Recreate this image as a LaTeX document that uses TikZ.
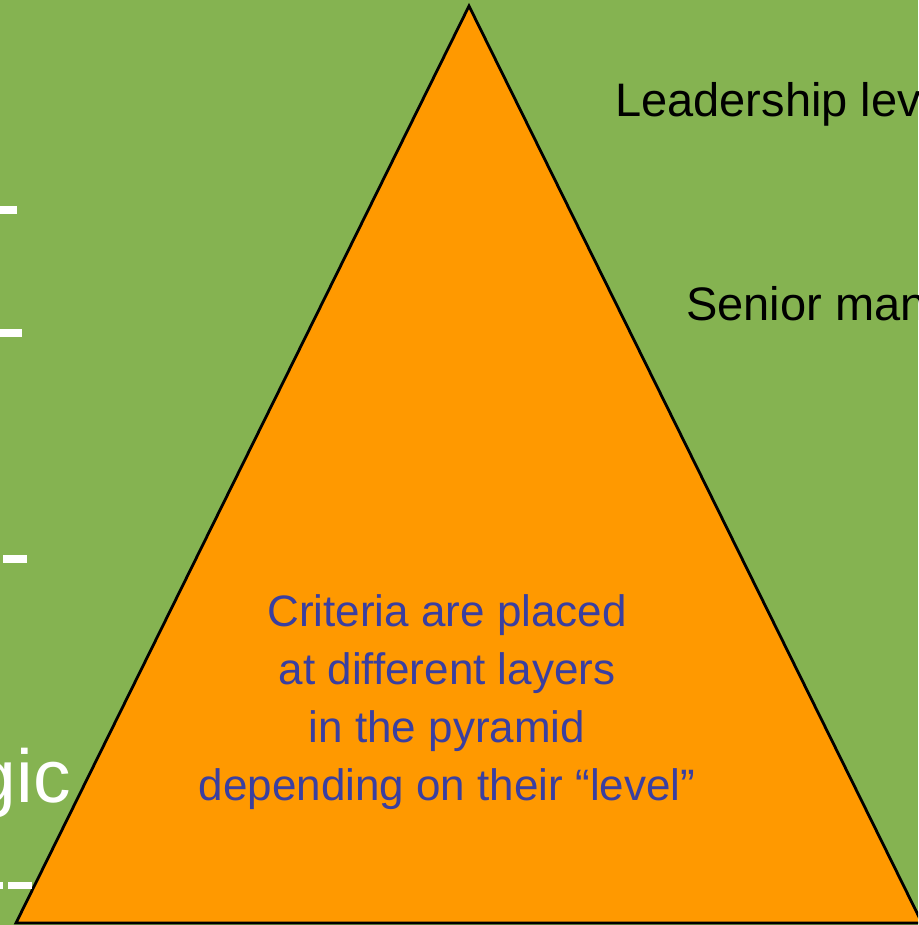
\documentclass[tikz,border=0pt]{standalone}
\usepackage{fontspec}
\setmainfont{Liberation Sans}
\usepackage{xcolor}
\definecolor{bggreen}{HTML}{85B351}
\definecolor{pyrorange}{HTML}{FF9900}
\definecolor{critblue}{HTML}{3A3FA0}

\tikzset{
  levtext/.style={anchor=base west, inner sep=0pt, font=\fontsize{47}{54}\selectfont},
  whitedash/.style={fill=white, draw=none}
}

\begin{document}
\begin{tikzpicture}[x=1pt,y=-1pt]

    % Рамка и фон
    \useasboundingbox (0,0) rectangle (918,925);
    \clip (0,0) rectangle (918,925);
    \fill[bggreen] (0,0) rectangle (918,925);

    % Вершины пирамиды
    \coordinate (A) at (16,923);
    \coordinate (B) at (922,923);
    \coordinate (C) at (469,6);

    % Пирамида
    \draw[fill=pyrorange, line width=2.8pt, line join=miter] (A) -- (B) -- (C) -- cycle;

    % Подписи уровней справа
    \node[levtext] (lead) at (615,117) {Leadership lev};
    \node[levtext] (senior) at (686,320) {Senior man};

    % Обрезанный текст слева
    \node[anchor=base east, inner sep=0pt, text=white, font=\fontsize{75}{80}\selectfont] (strat) at (71,802) {gic};

    % Белые штрихи слева
    \fill[whitedash] (0,206) rectangle (17,214);
    \fill[whitedash] (0,329) rectangle (22,337);
    \fill[whitedash] (3,555) rectangle (27,563);
    \fill[whitedash] (0,882) rectangle (3,889);
    \fill[whitedash] (8,882) rectangle (32,889);

    % Текст внутри пирамиды (anchor=base -- базовая линия последней строки)
    \node[anchor=base, inner sep=0pt, align=center, text=critblue, font=\fontsize{44}{57.7}\selectfont] (crit) at (447,800)
      {Criteria are placed\\ at different layers\\in the pyramid \\depending on their “level”};

\end{tikzpicture}
\end{document}
